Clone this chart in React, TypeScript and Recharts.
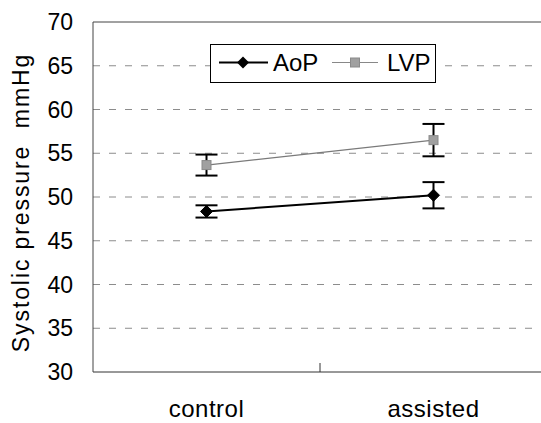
import React from 'react';
import { LineChart, Line, XAxis, YAxis, ReferenceLine, ErrorBar } from 'recharts';

const categories = ['control', 'assisted'];
const aopMean = [48.35, 50.2];
const aopErr = [0.7, 1.5];
const lvpMean = [53.65, 56.5];
const lvpErr = [1.2, 1.85];
const yTicks = [30, 35, 40, 45, 50, 55, 60, 65, 70];
const gridValues = [35, 40, 45, 50, 55, 60, 65];
const seriesNames = ['AoP', 'LVP'];

const rows = categories.map((c, i) => ({
  pos: i + 0.5,
  name: c,
  aop: aopMean[i],
  aopErr: aopErr[i],
  lvp: lvpMean[i],
  lvpErr: lvpErr[i],
}));

const FONT = '"Liberation Sans", Arial, sans-serif';

const Diamond = (props: any) => {
  const { cx, cy } = props;
  if (cx == null || cy == null) return null;
  const r = 6;
  return <path d={`M${cx},${cy - r}L${cx + r},${cy}L${cx},${cy + r}L${cx - r},${cy}Z`} fill="#000" stroke="#000" />;
};

const Square = (props: any) => {
  const { cx, cy } = props;
  if (cx == null || cy == null) return null;
  const s = 9;
  return <rect x={cx - s / 2} y={cy - s / 2} width={s} height={s} fill="#a0a0a0" stroke="#8a8a8a" strokeWidth={1} />;
};

const XTick = (props: any) => {
  const { x, y, payload } = props;
  const v = payload.value;
  if (Number.isInteger(v)) {
    return <line x1={x} x2={x} y1={y} y2={y - 9} stroke="#333" strokeWidth={1} />;
  }
  const label = categories[Math.floor(v)];
  return (
    <text x={x} y={y + 45} textAnchor="middle" fontSize={24} fill="#000" fontFamily={FONT} letterSpacing={0.5}>
      {label}
    </text>
  );
};

const LegendBox = () => (
  <svg width={226} height={39} style={{ display: 'block' }}>
    <rect x={0.5} y={0.5} width={225} height={38} fill="#fff" stroke="#000" strokeWidth={1} />
    <line x1={9} x2={58} y1={18.5} y2={18.5} stroke="#000" strokeWidth={2} />
    <path d="M33,12.5L39,18.5L33,24.5L27,18.5Z" fill="#000" />
    <text x={63} y={27} fontSize={24} fontFamily={FONT} fill="#000">{seriesNames[0]}</text>
    <line x1={122} x2={168} y1={18.5} y2={18.5} stroke="#888" strokeWidth={1} />
    <rect x={140.5} y={14} width={9} height={9} fill="#a0a0a0" stroke="#8a8a8a" />
    <text x={177} y={27} fontSize={24} fontFamily={FONT} fill="#000">{seriesNames[1]}</text>
  </svg>
);

const YLabel = () => (
  <text
    x={28.5}
    y={202.5}
    transform="rotate(-90, 28.5, 202.5)"
    textAnchor="middle"
    fontSize={23}
    fontFamily={FONT}
    fill="#000"
    letterSpacing={1.9}
    style={{ whiteSpace: 'pre' }}
  >
    {'Systolic pressure  mmHg'}
  </text>
);

export default function App() {
  return (
    <div style={{ position: 'fixed', left: 0, top: 0, width: 541, height: 423, overflow: 'hidden', background: '#fff' }}>
      <LineChart
        width={561}
        height={423}
        data={rows}
        margin={{ top: 22, right: 14, left: 0, bottom: 0 }}
        style={{ fontFamily: FONT }}
      >
        <XAxis
          dataKey="pos"
          type="number"
          domain={[0, categories.length]}
          ticks={[0.5, 1, 1.5]}
          tick={<XTick />}
          tickLine={false}
          tickSize={0}
          tickMargin={0}
          height={51}
          axisLine={{ stroke: '#333', strokeWidth: 1 }}
          interval={0}
        />
        <YAxis
          type="number"
          domain={[30, 70]}
          ticks={yTicks}
          width={93}
          tickLine={false}
          tickSize={8}
          tickMargin={12}
          tick={{ fontSize: 23, fill: '#000', fontFamily: FONT }}
          axisLine={{ stroke: '#444', strokeWidth: 1 }}
          interval={0}
          label={<YLabel />}
        />
        {gridValues.map((g) => (
          <ReferenceLine key={g} y={g} stroke="#8c8c8c" strokeDasharray="7 9" strokeWidth={1} />
        ))}
        <ReferenceLine y={70} stroke="#444" strokeWidth={1} />
        <Line
          dataKey="lvp"
          stroke="#7a7a7a"
          strokeWidth={1.2}
          isAnimationActive={false}
          dot={<Square />}
          activeDot={false}
        >
          <ErrorBar dataKey="lvpErr" direction="y" width={11} stroke="#000" strokeWidth={2} />
        </Line>
        <Line
          dataKey="aop"
          stroke="#000"
          strokeWidth={2}
          isAnimationActive={false}
          dot={<Diamond />}
          activeDot={false}
        >
          <ErrorBar dataKey="aopErr" direction="y" width={11} stroke="#000" strokeWidth={2} />
        </Line>
      </LineChart>
      <div style={{ position: 'absolute', left: 210, top: 44 }}>
        <LegendBox />
      </div>
    </div>
  );
}
